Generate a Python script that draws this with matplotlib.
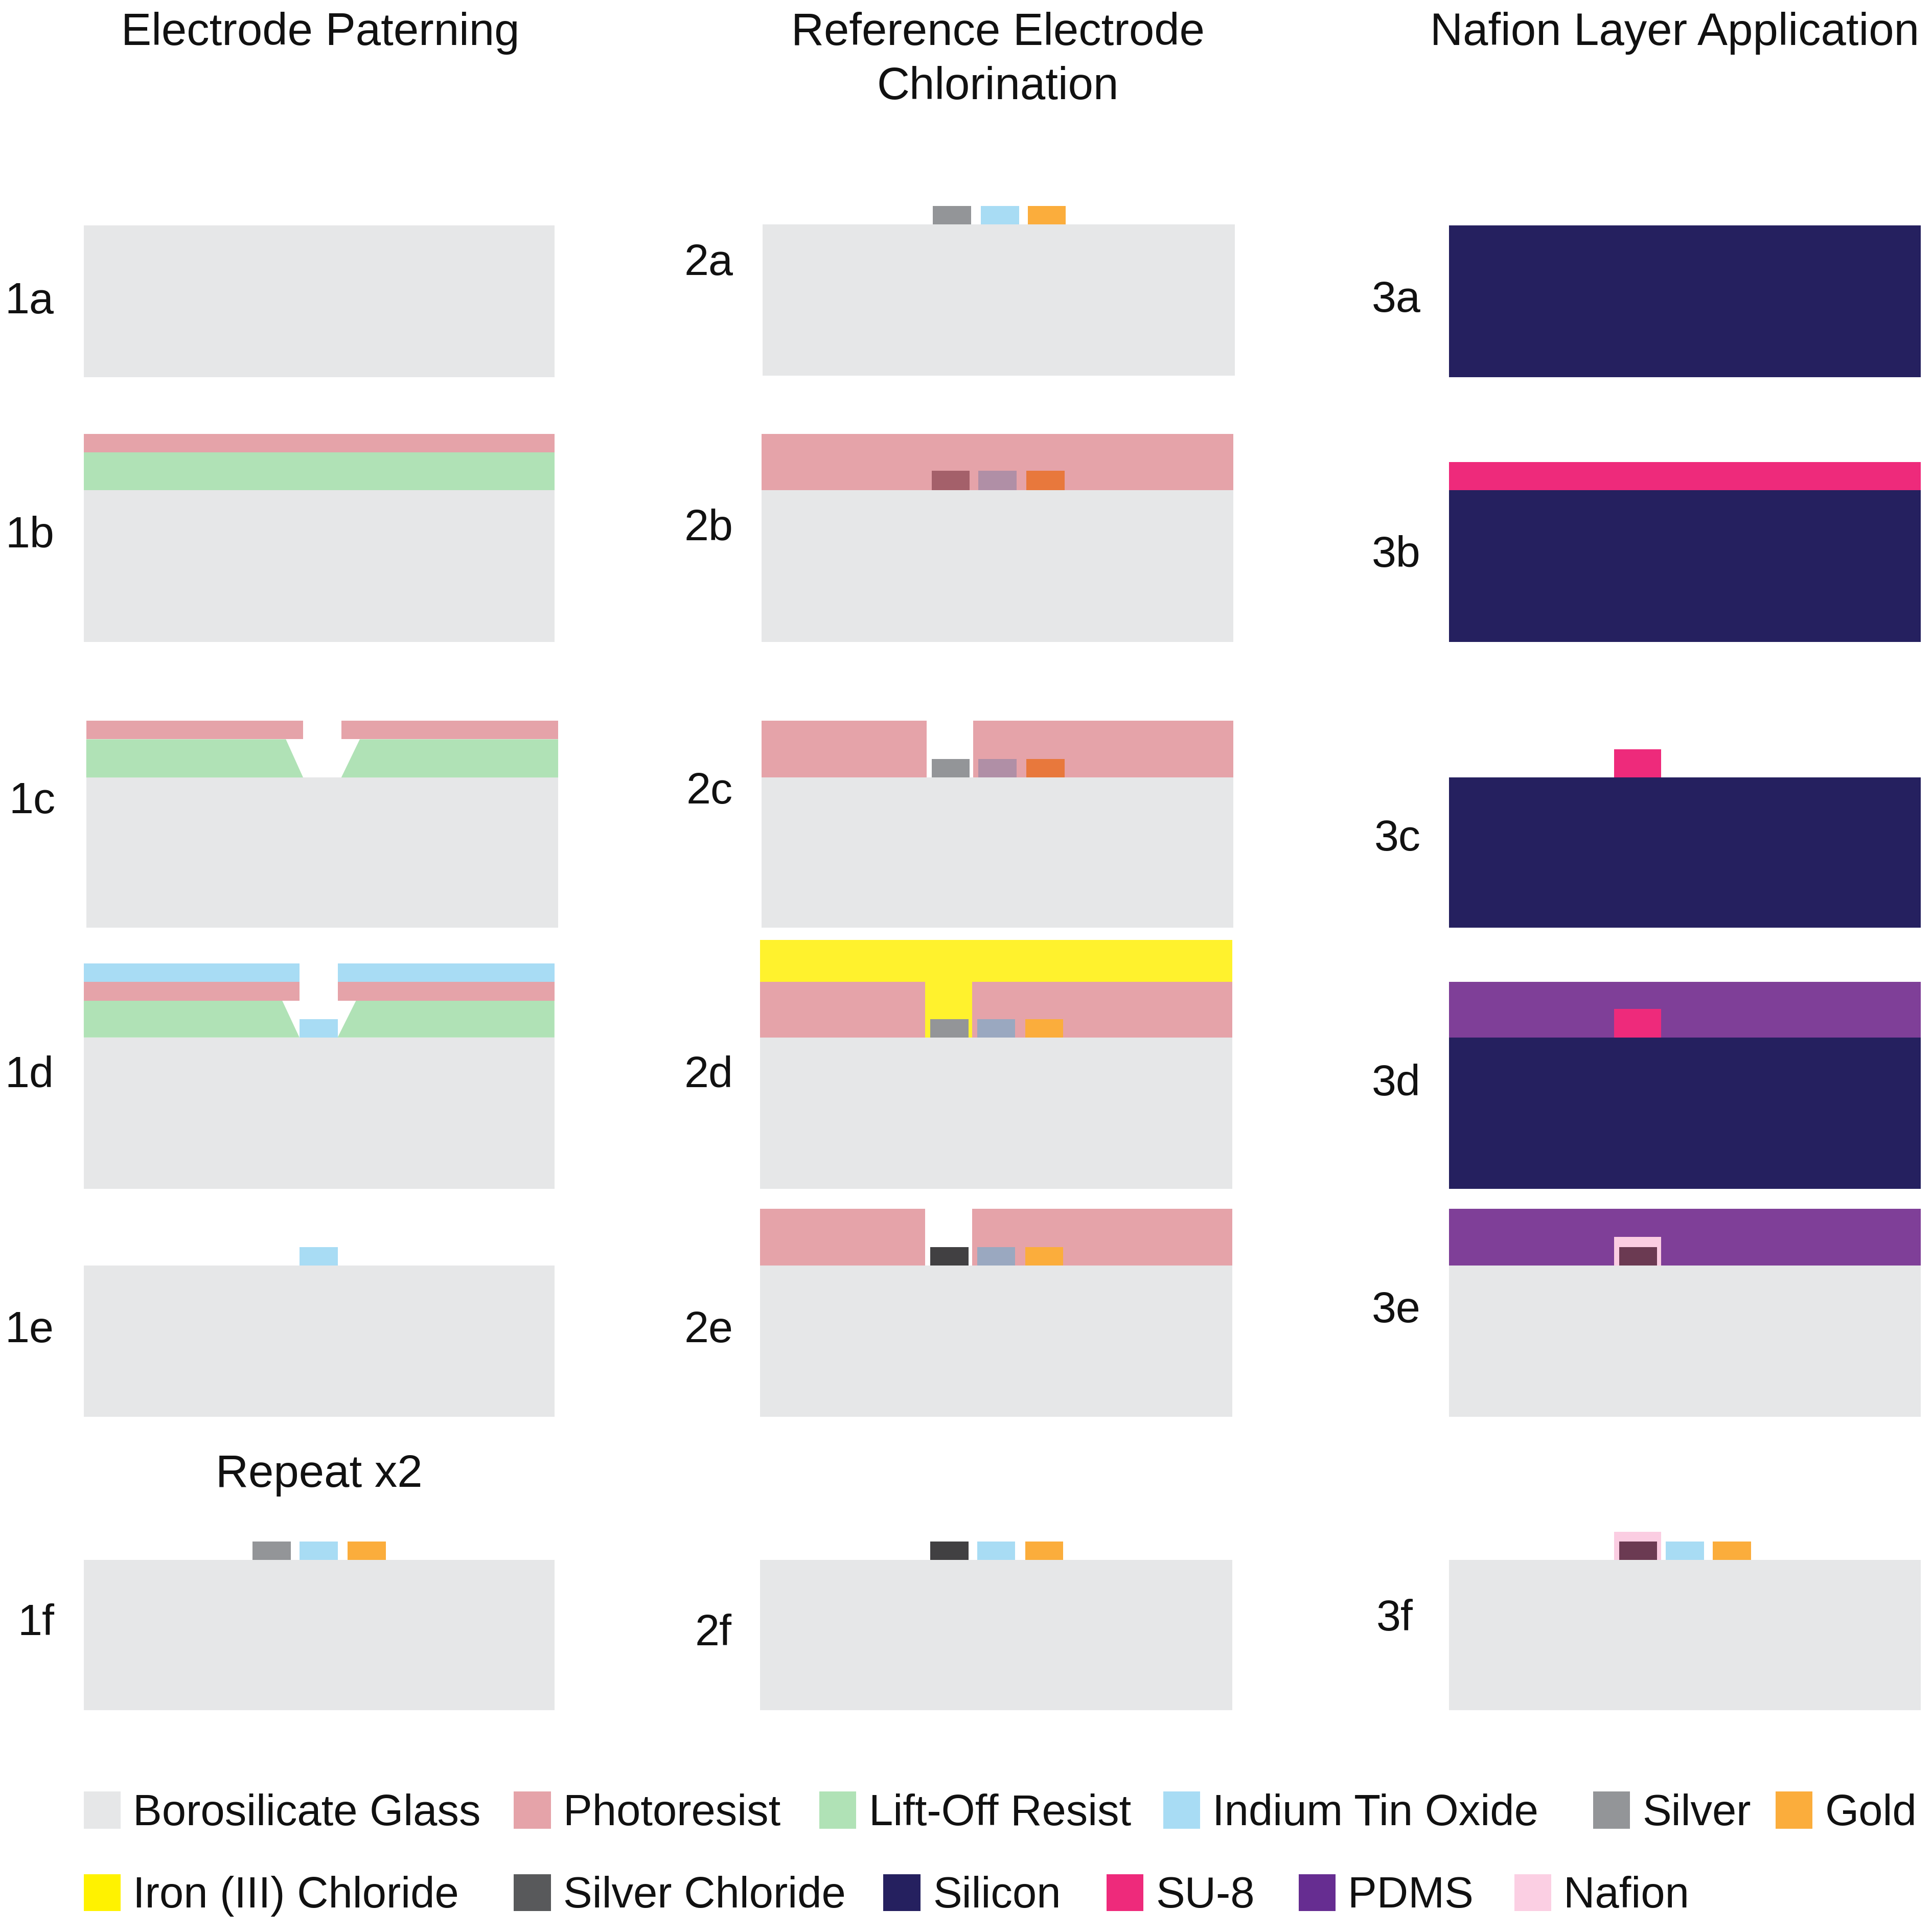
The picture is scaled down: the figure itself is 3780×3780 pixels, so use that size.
import matplotlib
matplotlib.use("Agg")
import matplotlib.pyplot as plt
from matplotlib.patches import Polygon, Rectangle

plt.rcParams['font.family'] = ['Liberation Sans', 'DejaVu Sans']

# geometry, as (x0, x1, y0, y1) in a 1568 x 1568 frame
GLASS = [
    (68, 450, 183, 306), (68, 450, 398, 521), (70, 453, 631, 753), (68, 450, 842, 965),
    (68, 450, 1027, 1150), (68, 450, 1266, 1388),
    (619, 1002, 182, 305), (618, 1001, 398, 521), (618, 1001, 631, 753), (617, 1000, 842, 965),
    (617, 1000, 1027, 1150), (617, 1000, 1266, 1388),
    (1176, 1559, 1027, 1150), (1176, 1559, 1266, 1388),
]
SILICON = [(1176, 1559, 183, 306), (1176, 1559, 398, 521), (1176, 1559, 631, 753), (1176, 1559, 842, 965)]
LOR_FULL = [(68, 450, 367, 398)]
# undercut lift-off resist, (x top, x bottom) is the slanted end
LOR_SLANTED = [
    [(70, 600), (232, 600), (246, 631), (70, 631)],
    [(453, 600), (292, 600), (277, 631), (453, 631)],
    [(68, 812), (229, 812), (243, 842), (68, 842)],
    [(450, 812), (289, 812), (274, 842), (450, 842)],
]
PHOTORESIST = [
    (68, 450, 352, 367), (70, 246, 585, 600), (277, 453, 585, 600), (68, 243, 797, 812), (274, 450, 797, 812),
    (618, 1001, 352, 398), (618, 752, 585, 631), (790, 1001, 585, 631),
    (617, 751, 797, 842), (789, 1000, 797, 842), (617, 751, 981, 1027), (789, 1000, 981, 1027),
]
IRON_CHLORIDE = [(617, 1000, 763, 797), (751, 789, 797, 842)]
ITO = [
    (68, 243, 782, 797), (274, 450, 782, 797), (243, 274, 827, 842), (243, 274, 1012, 1027), (243, 274, 1251, 1266),
    (796, 827, 167, 182), (793, 824, 1251, 1266), (1352, 1383, 1251, 1266),
]
SILVER = [(205, 236, 1251, 1266), (757, 788, 167, 182), (756, 787, 616, 631), (755, 786, 827, 842)]
GOLD = [
    (282, 313, 1251, 1266), (834, 865, 167, 182), (832, 863, 827, 842), (832, 863, 1012, 1027),
    (832, 863, 1251, 1266), (1390, 1421, 1251, 1266),
]
SILVER_UNDER_PR = [(756, 787, 382, 398)]
ITO_UNDER_PR = [(794, 825, 382, 398), (794, 825, 616, 631)]
GOLD_UNDER_PR = [(833, 864, 382, 398), (833, 864, 616, 631)]
ITO_UNDER_PR_THIN = [(793, 824, 827, 842), (793, 824, 1012, 1027)]
SILVER_CHLORIDE = [(755, 786, 1012, 1027), (755, 786, 1251, 1266)]
SU8 = [(1176, 1559, 375, 398), (1310, 1348, 608, 631), (1310, 1348, 819, 842)]
PDMS = [(1176, 1559, 797, 842), (1176, 1559, 981, 1027)]
NAFION = [(1310, 1348, 1004, 1027), (1310, 1348, 1243, 1266)]
AGCL_UNDER_NAFION = [(1314, 1345, 1012, 1027), (1314, 1345, 1251, 1266)]

PANEL_LABELS = ['1a', '1b', '1c', '1d', '1e', '1f', '2a', '2b', '2c', '2d', '2e', '2f',
                '3a', '3b', '3c', '3d', '3e', '3f']
PANEL_LABEL_X = [24, 24, 26, 24, 24, 29, 575, 575, 576, 575, 575, 579,
                 1133, 1133, 1134, 1133, 1133, 1132]
PANEL_LABEL_Y = [245, 435, 651, 873, 1080, 1318, 214, 429, 643, 873, 1080, 1326,
                 244, 451, 681, 880, 1064, 1314]

TITLES = ['Electrode Paterning', 'Reference Electrode', 'Chlorination', 'Nafion Layer Application', 'Repeat x2']
TITLE_X = [260, 810, 810, 1359, 259]
TITLE_Y = [27, 27, 71, 27, 1197]

LEGEND_ROW1 = ['Borosilicate Glass', 'Photoresist', 'Lift-Off Resist', 'Indium Tin Oxide', 'Silver', 'Gold']
LEGEND_ROW1_X = [68, 417, 665, 944, 1293, 1441]
LEGEND_ROW1_COLORS = ['#e6e7e8', '#e5a3a9', '#b0e2b6', '#a8dcf4', '#939598', '#fbad3c']
LEGEND_ROW2 = ['Iron (III) Chloride', 'Silver Chloride', 'Silicon', 'SU-8', 'PDMS', 'Nafion']
LEGEND_ROW2_X = [68, 417, 717, 898, 1054, 1229]
LEGEND_ROW2_COLORS = ['#fff200', '#58595b', '#25205f', '#ee2a7b', '#662d91', '#fbcfe3']


def draw_rects(ax, rects, color):
    for x0, x1, y0, y1 in rects:
        ax.add_patch(Rectangle((x0, y0), x1 - x0, y1 - y0, facecolor=color, edgecolor='none'))


fig = plt.figure(figsize=(12.6, 12.6), dpi=300)
ax = fig.add_axes([0, 0, 1, 1])
ax.set_xlim(0, 1568)
ax.set_ylim(1568, 0)
ax.axis('off')

draw_rects(ax, GLASS, '#e6e7e8')
draw_rects(ax, SILICON, '#25205f')
draw_rects(ax, LOR_FULL, '#b0e2b6')
for pts in LOR_SLANTED:
    ax.add_patch(Polygon(pts, closed=True, facecolor='#b0e2b6', edgecolor='none'))
draw_rects(ax, PHOTORESIST, '#e5a3a9')
draw_rects(ax, IRON_CHLORIDE, '#fff22d')
draw_rects(ax, ITO, '#a8dcf4')
draw_rects(ax, SILVER, '#939598')
draw_rects(ax, GOLD, '#fbad3c')
draw_rects(ax, SILVER_UNDER_PR, '#a4606a')
draw_rects(ax, ITO_UNDER_PR, '#b08fa6')
draw_rects(ax, GOLD_UNDER_PR, '#e8783c')
draw_rects(ax, ITO_UNDER_PR_THIN, '#9aa8c0')
draw_rects(ax, SILVER_CHLORIDE, '#414042')
draw_rects(ax, PDMS, '#7f3f98')
draw_rects(ax, SU8, '#ee2a7b')  # on top of the PDMS in 3d
draw_rects(ax, NAFION, '#fbcde2')
draw_rects(ax, AGCL_UNDER_NAFION, '#6b3a52')

for label, x, y in zip(PANEL_LABELS, PANEL_LABEL_X, PANEL_LABEL_Y):
    ax.text(x, y, label, fontsize=20.7, ha='center', va='center', color='#111111')

for title, x, y in zip(TITLES, TITLE_X, TITLE_Y):
    ax.text(x, y, title, fontsize=21.3, ha='center', va='center', color='#111111')

# legend is swatch + text, placed by hand like the figure
for names, xs, colors, y0 in [(LEGEND_ROW1, LEGEND_ROW1_X, LEGEND_ROW1_COLORS, 1454),
                              (LEGEND_ROW2, LEGEND_ROW2_X, LEGEND_ROW2_COLORS, 1521)]:
    for name, x, color in zip(names, xs, colors):
        ax.add_patch(Rectangle((x, y0), 30, 30, facecolor=color, edgecolor='none'))
        ax.text(x + 40, y0 + 18, name, fontsize=20.4, ha='left', va='center', color='#111111')

fig.savefig('out.png', dpi=300)
